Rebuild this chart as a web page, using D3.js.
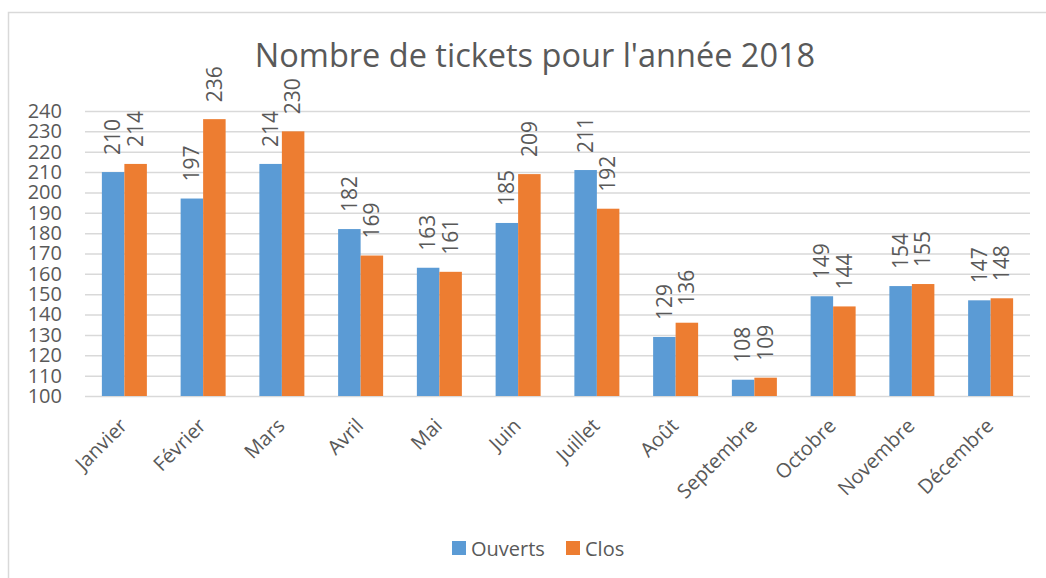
<!DOCTYPE html>
<html>
<head>
<meta charset="utf-8">
<script src="https://cdn.jsdelivr.net/npm/d3@7"></script>
<style>
  html, body { margin: 0; padding: 0; background: #fff; }
  svg { display: block; }
  text { font-family: "Open Sans", sans-serif; fill: #595959; }
</style>
</head>
<body>
<svg id="chart" width="1046" height="578"></svg>
<script>
// Monthly ticket counts, 2018
const months = ["Janvier", "Février", "Mars", "Avril", "Mai", "Juin", "Juillet",
                "Août", "Septembre", "Octobre", "Novembre", "Décembre"];
const ouverts = [210, 197, 214, 182, 163, 185, 211, 129, 108, 149, 154, 147];
const clos    = [214, 236, 230, 169, 161, 209, 192, 136, 109, 144, 155, 148];
const seriesNames = ["Ouverts", "Clos"];
const seriesColors = ["#5B9BD5", "#ED7D31"];
const yTicks = d3.range(100, 241, 10);
const title = "Nombre de tickets pour l'année 2018";

const svg = d3.select("#chart");
const plot = { left: 85, right: 1030, top: 111, bottom: 396 };

// outer frame of the chart area
svg.append("rect")
  .attr("x", 8.5).attr("y", 12.5)
  .attr("width", 1100).attr("height", 700)
  .attr("fill", "none").attr("stroke", "#d9d9d9").attr("stroke-width", 1.5);

const x = d3.scaleBand()
  .domain(months)
  .range([plot.left, plot.right])
  .paddingInner(0.4286)
  .paddingOuter(0.2143);

const xs = d3.scaleBand()
  .domain(seriesNames)
  .range([0, x.bandwidth()]);

const y = d3.scaleLinear()
  .domain([100, 240])
  .range([plot.bottom, plot.top]);

// horizontal gridlines + y labels
const yAxis = d3.axisLeft(y)
  .tickValues(yTicks)
  .tickSize(-(plot.right - plot.left))
  .tickPadding(23);
const gy = svg.append("g")
  .attr("transform", `translate(${plot.left},0)`)
  .call(yAxis);
gy.select(".domain").remove();
gy.selectAll(".tick line").attr("stroke", "#d9d9d9").attr("stroke-width", 1.5);
gy.selectAll(".tick text")
  .attr("fill", "#595959")
  .style("font-size", "20px")
  .style("font-family", "'Open Sans', sans-serif");

// x axis labels (rotated)
const xAxis = d3.axisBottom(x).tickSize(0).tickPadding(0);
const gx = svg.append("g")
  .attr("transform", `translate(0,${plot.bottom})`)
  .call(xAxis);
gx.select(".domain").remove();
gx.selectAll(".tick text")
  .attr("fill", "#595959")
  .style("font-size", "20px")
  .style("font-family", "'Open Sans', sans-serif")
  .attr("text-anchor", "end")
  .attr("dy", null)
  .attr("y", 0)
  .attr("transform", "translate(4,31) rotate(-45)");

// bars
const rows = months.map((m, i) => ({ month: m, values: [ouverts[i], clos[i]] }));
const groups = svg.append("g").selectAll("g")
  .data(rows).join("g")
  .attr("transform", d => `translate(${x(d.month)},0)`);

groups.selectAll("rect")
  .data(d => d.values.map((v, k) => ({ k, v })))
  .join("rect")
  .attr("x", d => xs(seriesNames[d.k]))
  .attr("width", xs.bandwidth())
  .attr("y", d => y(d.v))
  .attr("height", d => y(100) - y(d.v))
  .attr("fill", d => seriesColors[d.k]);

// rotated value labels above each bar
groups.selectAll("text.val")
  .data(d => d.values.map((v, k) => ({ k, v })))
  .join("text")
  .attr("class", "val")
  .attr("transform", d => {
    const cx = xs(seriesNames[d.k]) + xs.bandwidth() / 2;
    return `translate(${cx},${y(d.v) - 17}) rotate(-90)`;
  })
  .attr("dy", "0.35em")
  .attr("text-anchor", "start")
  .style("font-size", "21px")
  .text(d => d.v);

// title
svg.append("text")
  .attr("x", 535).attr("y", 67)
  .attr("text-anchor", "middle")
  .style("font-size", "32.5px")
  .text(title);

// legend
const legend = svg.append("g");
const legendItems = [
  { name: seriesNames[0], color: seriesColors[0], x: 452 },
  { name: seriesNames[1], color: seriesColors[1], x: 566 }
];
legendItems.forEach(it => {
  legend.append("rect")
    .attr("x", it.x).attr("y", 541)
    .attr("width", 14).attr("height", 14)
    .attr("fill", it.color);
  legend.append("text")
    .attr("x", it.x + 19).attr("y", 556)
    .style("font-size", "20px")
    .text(it.name);
});
</script>
</body>
</html>
